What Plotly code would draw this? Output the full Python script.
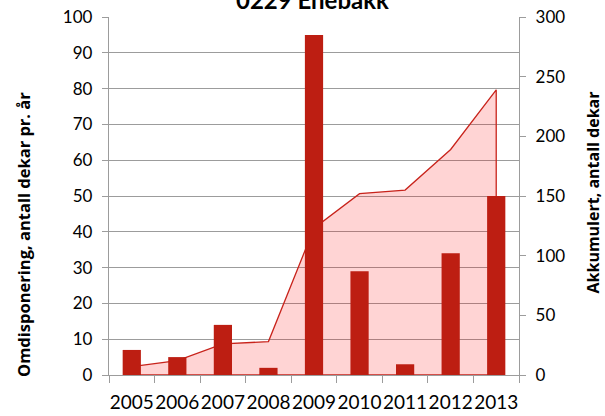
import plotly.graph_objects as go

years = ["2005", "2006", "2007", "2008", "2009", "2010", "2011", "2012", "2013"]
annual = [7, 5, 14, 2, 95, 29, 3, 34, 50]
cumulative = [7, 12, 26, 28, 123, 152, 155, 189, 239]

title_text = "0229 Enebakk"
left_title = "Omdisponering, antall dekar pr. år"
right_title = "Akkumulert, antall dekar"

FONT = "Lato"
TFONT = "Open Sans"
GRID = "#9c9c9c"
BAR = "#BD1E12"
LINE = "#C8231B"
FILL = "rgba(255,0,0,0.17)"

L, R, T, B = 109, 86, 17, 41
W, H = 605, 416
PW, PH = W - L - R, H - T - B


def px_x(px):
    return (px - L) / PW


def px_y(py):
    return (H - B - py) / PH


fig = go.Figure()

# cumulative area (closed polygon so the right edge drops to zero)
fig.add_trace(go.Scatter(
    x=years + [years[-1], years[0]],
    y=cumulative + [0, 0],
    mode="lines",
    fill="toself",
    fillcolor=FILL,
    line=dict(color=LINE, width=1.3),
    yaxis="y",
    hoverinfo="skip",
    showlegend=False,
))

fig.add_trace(go.Bar(
    x=years,
    y=annual,
    marker=dict(color=BAR, line=dict(width=0)),
    yaxis="y2",
    showlegend=False,
))

fig.update_layout(
    width=W, height=H,
    margin=dict(l=L, r=R, t=T, b=B, autoexpand=False),
    paper_bgcolor="white",
    plot_bgcolor="white",
    bargap=0.6,
    font=dict(family=FONT, color="#000000"),
    xaxis=dict(
        type="category",
        categoryorder="array",
        categoryarray=years,
        range=[-0.5, 8.5],
        tickson="boundaries",
        ticks="outside",
        ticklen=7,
        tickcolor=GRID,
        showline=True,
        linecolor=GRID,
        linewidth=1.3,
        showgrid=False,
        tickangle=0,
        automargin=False,
        ticklabelstandoff=10,
        tickfont=dict(family=FONT, size=19, color="#000"),
    ),
    yaxis=dict(
        side="right",
        range=[0, 300],
        dtick=50,
        tick0=0,
        ticks="outside",
        ticklen=6,
        tickcolor=GRID,
        showline=True,
        linecolor=GRID,
        linewidth=1.3,
        showgrid=False,
        zeroline=False,
        automargin=False,
        ticklabelstandoff=6,
        tickfont=dict(family=FONT, size=17, color="#000"),
    ),
    yaxis2=dict(
        overlaying="y",
        side="left",
        range=[0, 100],
        dtick=10,
        tick0=0,
        ticks="outside",
        ticklen=6,
        tickcolor=GRID,
        showline=True,
        linecolor=GRID,
        linewidth=1.3,
        showgrid=True,
        gridcolor=GRID,
        gridwidth=1.3,
        zeroline=False,
        automargin=False,
        ticklabelstandoff=6,
        tickfont=dict(family=FONT, size=17, color="#000"),
    ),
    annotations=[
        dict(text="<b>" + title_text + "</b>", xref="paper", yref="paper",
             x=px_x(312), y=px_y(9.8 + 6), xanchor="center", yanchor="bottom",
             showarrow=False, font=dict(family=FONT, size=24, color="#000")),
        dict(text="<b>" + left_title + "</b>", xref="paper", yref="paper",
             x=px_x(23), y=px_y(235), xanchor="center", yanchor="middle",
             textangle=-90, showarrow=False,
             font=dict(family=TFONT, size=16.5, color="#000")),
        dict(text="<b>" + right_title + "</b>", xref="paper", yref="paper",
             x=px_x(592), y=px_y(192.5), xanchor="center", yanchor="middle",
             textangle=-90, showarrow=False,
             font=dict(family=TFONT, size=16, color="#000")),
    ],
)

fig.write_html("out.html",
               config={"displayModeBar": False},
               post_script="document.body.style.margin='0';document.body.style.padding='0';")
